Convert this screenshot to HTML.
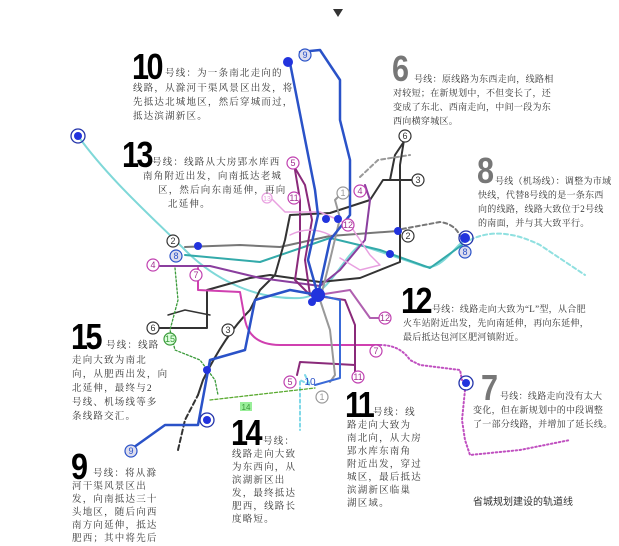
<!DOCTYPE html>
<html><head><meta charset="utf-8"><style>
html,body{margin:0;padding:0;background:#fff}
body{width:619px;height:545px;overflow:hidden;position:relative;font-family:"Liberation Serif","Noto Serif CJK SC",serif}
.t{position:absolute;font-size:9.5px;color:#333;letter-spacing:1.2px;line-height:14px;white-space:nowrap}
.s{font-size:9px;letter-spacing:0.3px}
.n{position:absolute;font-family:"Liberation Sans","Noto Sans CJK SC",sans-serif;font-weight:bold;font-size:36px;line-height:30px;letter-spacing:-3px;transform:scaleX(0.85);transform-origin:left}
svg{position:absolute;left:0;top:0}
</style></head><body>
<svg width="619" height="545" viewBox="0 0 619 545" fill="none" stroke-linecap="round" stroke-linejoin="round">
<polygon points="333,9 343,9 338,17" fill="#333"/>
<path d="M78,136 C110,180 150,215 185,250 C210,275 250,300 300,298 C330,296 340,260 360,245 L420,265 C440,275 455,245 465,240" stroke="#7fd8d8" stroke-width="2"/>
<path d="M470,240 Q500,225 540,245 L585,275" stroke="#8fe0e0" stroke-width="2" stroke-dasharray="4,3"/>
<path d="M185,255 L260,262 L330,238 L380,250 L430,268 L462,245" stroke="#3aa" stroke-width="2"/>
<path d="M185,247 L240,245 L280,247 L330,236 L398,231" stroke="#777" stroke-width="2"/>
<path d="M402,229 L440,222 Q455,224 460,236" stroke="#777" stroke-width="2" stroke-dasharray="4,3"/>
<path d="M198,395 L203,380 Q225,335 250,310 L260,290 L275,275 L285,240 L290,215 L330,213 L370,200 L383,180 L415,180" stroke="#333" stroke-width="2"/>
<path d="M178,450 L185,420 L198,395" stroke="#333" stroke-width="2" stroke-dasharray="5,3"/>
<path d="M390,180 L395,155 L405,140" stroke="#333" stroke-width="2"/>
<path d="M360,177 L378,160 L410,155" stroke="#999" stroke-width="2" stroke-dasharray="4,3"/>
<path d="M150,328 L207,328 L207,290 L250,278 L270,275 L320,282 L360,278 L400,262 L400,230 L400,165 L404,140" stroke="#333" stroke-width="2"/>
<path d="M168,315 L185,310 L210,315" stroke="#333" stroke-width="1.5"/>
<path d="M158,266 L210,266 L260,278 L320,286 L340,270 L365,240 L370,200 L365,185" stroke="#8a3e9e" stroke-width="2"/>
<path d="M198,268 L198,290 L240,292 L245,320 Q250,345 280,345 L380,345" stroke="#d040b0" stroke-width="2"/>
<path d="M380,345 Q400,345 410,360 L420,365 L460,370 L462,380" stroke="#c050c0" stroke-width="2" stroke-dasharray="1.5,2.5"/>
<path d="M465,390 L462,420 L465,440 L470,455 L520,450 L570,440" stroke="#c050c0" stroke-width="2" stroke-dasharray="1.5,2.5"/>
<path d="M318,295 L350,290 L370,318 L385,318" stroke="#b060b0" stroke-width="2"/>
<path d="M295,170 L300,200 L300,245 L295,280 L310,295 L345,300 L355,325 L355,372" stroke="#8a2a7a" stroke-width="2"/>
<path d="M297,375 L300,362 L355,365" stroke="#8a2a7a" stroke-width="2"/>
<path d="M295,168 L305,185 L312,220 L305,260 L310,295" stroke="#8a2a7a" stroke-width="2"/>
<path d="M270,197 L285,212 L320,212 L350,225 L370,255 L380,265 L360,270 L340,258" stroke="#e8a0e0" stroke-width="1.5"/>
<path d="M290,235 Q310,225 330,235" stroke="#e8a0e0" stroke-width="1.5"/>
<path d="M345,190 L335,200 L340,218 L330,260 L320,300 L330,330 L335,375 L330,382" stroke="#999" stroke-width="2"/>
<path d="M290,63 L315,190 L318,215 L308,260 L318,295" stroke="#2a52c8" stroke-width="2.5"/>
<path d="M130,450 L165,425 L198,425 L210,360 L245,350 L255,300 L290,290 L318,295" stroke="#2a52c8" stroke-width="2.5"/>
<path d="M318,295 L330,240 L350,215 L350,160 L340,120 L340,80 L320,50 L300,52" stroke="#2a52c8" stroke-width="2.5"/>
<path d="M318,295 L340,300 L340,378 L315,385" stroke="#3a6ad8" stroke-width="2"/>
<path d="M305,375 L310,385 L300,380 L300,430" stroke="#7fd8e8" stroke-width="2" stroke-dasharray="3,3"/>
<path d="M175,268 L178,300 L170,330 L175,350 L200,360 L215,380 L218,395" stroke="#3a9a3a" stroke-width="1.3" stroke-dasharray="2,2"/>
<path d="M210,400 L315,388" stroke="#5aaa30" stroke-width="1.3" stroke-dasharray="3,2"/>
<g fill="#2233dd">
<circle cx="318" cy="295" r="7"/><circle cx="312" cy="302" r="4"/>
<circle cx="326" cy="219" r="4"/><circle cx="338" cy="219" r="4"/>
<circle cx="398" cy="231" r="4"/><circle cx="390" cy="254" r="4"/>
<circle cx="198" cy="246" r="4"/><circle cx="207" cy="370" r="4"/>
<circle cx="288" cy="62" r="5"/><circle cx="465" cy="238" r="5"/>
<circle cx="78" cy="136" r="4"/><circle cx="207" cy="420" r="4"/>
<circle cx="466" cy="383" r="4"/>
</g>
<g fill="none" stroke-width="1.3">
<circle cx="78" cy="136" r="7" stroke="#2233aa"/><circle cx="207" cy="420" r="7" stroke="#2233aa"/>
<circle cx="466" cy="383" r="7" stroke="#2233aa"/><circle cx="466" cy="238" r="7" stroke="#2233aa"/>
</g>
<g font-family="Liberation Sans,sans-serif" font-size="9" text-anchor="middle" stroke-width="1.2">
<g stroke="#333" fill="#fff"><circle cx="405" cy="136" r="6"/><circle cx="418" cy="180" r="6"/><circle cx="153" cy="328" r="6"/><circle cx="228" cy="330" r="6"/><circle cx="173" cy="241" r="6"/><circle cx="408" cy="236" r="6"/></g>
<g fill="#333" stroke="none"><text x="405" y="139">6</text><text x="418" y="183">3</text><text x="153" y="331">6</text><text x="228" y="333">3</text><text x="173" y="244">2</text><text x="408" y="239">2</text></g>
<g stroke="#c040b0" fill="#fff"><circle cx="293" cy="163" r="6"/><circle cx="294" cy="198" r="6"/><circle cx="153" cy="265" r="6"/><circle cx="385" cy="318" r="6"/><circle cx="376" cy="351" r="6"/><circle cx="358" cy="377" r="6"/><circle cx="290" cy="382" r="6"/><circle cx="196" cy="275" r="6"/><circle cx="360" cy="191" r="6"/><circle cx="348" cy="225" r="6"/></g>
<g fill="#a03090" stroke="none"><text x="293" y="166">5</text><text x="294" y="201">11</text><text x="153" y="268">4</text><text x="385" y="321">12</text><text x="376" y="354">7</text><text x="358" y="380">11</text><text x="290" y="385">5</text><text x="196" y="278">7</text><text x="360" y="194">4</text><text x="348" y="228">12</text></g>
<g stroke="#999" fill="#fff"><circle cx="343" cy="193" r="6"/><circle cx="322" cy="397" r="6"/></g>
<g fill="#999" stroke="none"><text x="343" y="196">1</text><text x="322" y="400">1</text></g>
<g stroke="#2a52c8" fill="#dde"><circle cx="305" cy="55" r="6"/><circle cx="131" cy="451" r="6"/><circle cx="176" cy="256" r="6"/><circle cx="465" cy="252" r="6"/></g>
<g fill="#2a52c8" stroke="none"><text x="305" y="58">9</text><text x="131" y="454">9</text><text x="176" y="259">8</text><text x="465" y="255">8</text></g>
<circle cx="170" cy="339" r="6" stroke="#3a9a3a" fill="#dfd"/><text x="170" y="342" fill="#3a9a3a">15</text>
<rect x="240" y="402" width="12" height="9" fill="#9e9"/><text x="246" y="410" fill="#3a9a3a" font-size="8">14</text>
<circle cx="267" cy="198" r="5" stroke="#e8a0e0" fill="#fff"/><text x="267" y="201" font-size="7" fill="#e8a0e0">13</text>
<text x="310" y="385" fill="#2a52c8" font-size="10">10</text>
</g>
</svg>
<div class="n" style="left:132px;top:52px">10</div>
<div class="t" style="left:165px;top:67px">号线：为一条南北走向的</div>
<div class="t" style="left:133px;top:82px">线路，从滁河干渠风景区出发，将<br>先抵达北城地区，然后穿城而过，<br>抵达滨湖新区。</div>
<div class="n" style="left:122px;top:140px">13</div>
<div class="t" style="left:152px;top:156px">号线：线路从大房郢水库西</div>
<div class="t" style="left:143px;top:170px">南角附近出发，向南抵达老城</div>
<div class="t" style="left:158px;top:184px">区，然后向东南延伸，再向</div>
<div class="t" style="left:168px;top:198px">北延伸。</div>
<div class="n" style="left:392px;top:54px;color:#777">6</div>
<div class="t s" style="left:414px;top:72px">号线：原线路为东西走向，线路相</div>
<div class="t s" style="left:393px;top:86px">对较短；在新规划中，不但变长了，还<br>变成了东北、西南走向，中间一段为东<br>西向横穿城区。</div>
<div class="n" style="left:477px;top:156px;color:#777">8</div>
<div class="t s" style="left:495px;top:174px">号线（机场线）：调整为市域</div>
<div class="t s" style="left:478px;top:188px">快线，代替8号线的是一条东西<br>向的线路，线路大致位于2号线<br>的南面，并与其大致平行。</div>
<div class="n" style="left:401px;top:286px">12</div>
<div class="t s" style="left:432px;top:302px">号线：线路走向大致为“L”型，从合肥</div>
<div class="t s" style="left:403px;top:316px">火车站附近出发，先向南延伸，再向东延伸，<br>最后抵达包河区肥河镇附近。</div>
<div class="n" style="left:71px;top:322px">15</div>
<div class="t" style="left:106px;top:339px">号线：线路</div>
<div class="t" style="left:72px;top:354px">走向大致为南北<br>向，从肥西出发，向<br>北延伸，最终与2<br>号线、机场线等多<br>条线路交汇。</div>
<div class="n" style="left:481px;top:373px;color:#777">7</div>
<div class="t s" style="left:500px;top:389px">号线：线路走向没有太大</div>
<div class="t s" style="left:473px;top:403px">变化，但在新规划中的中段调整<br>了一部分线路，并增加了延长线。</div>
<div class="n" style="left:345px;top:390px">11</div>
<div class="t" style="left:373px;top:406px">号线：线</div>
<div class="t" style="left:347px;top:420px;line-height:13px">路走向大致为<br>南北向，从大房<br>郢水库东南角<br>附近出发，穿过<br>城区，最后抵达<br>滨湖新区临巢<br>湖区域。</div>
<div class="n" style="left:231px;top:418px">14</div>
<div class="t" style="left:263px;top:435px">号线：</div>
<div class="t" style="left:232px;top:449px;line-height:13px">线路走向大致<br>为东西向，从<br>滨湖新区出<br>发，最终抵达<br>肥西，线路长<br>度略短。</div>
<div class="n" style="left:71px;top:452px">9</div>
<div class="t" style="left:93px;top:467px">号线：将从滁</div>
<div class="t" style="left:72px;top:481px;line-height:13px">河干渠风景区出<br>发，向南抵达三十<br>头地区，随后向西<br>南方向延伸，抵达<br>肥西；其中将先后</div>
<div class="t" style="left:473px;top:496px;font-family:'Liberation Sans','Noto Sans CJK SC',sans-serif;font-size:10px;letter-spacing:0">省城规划建设的轨道线</div>
</body></html>
